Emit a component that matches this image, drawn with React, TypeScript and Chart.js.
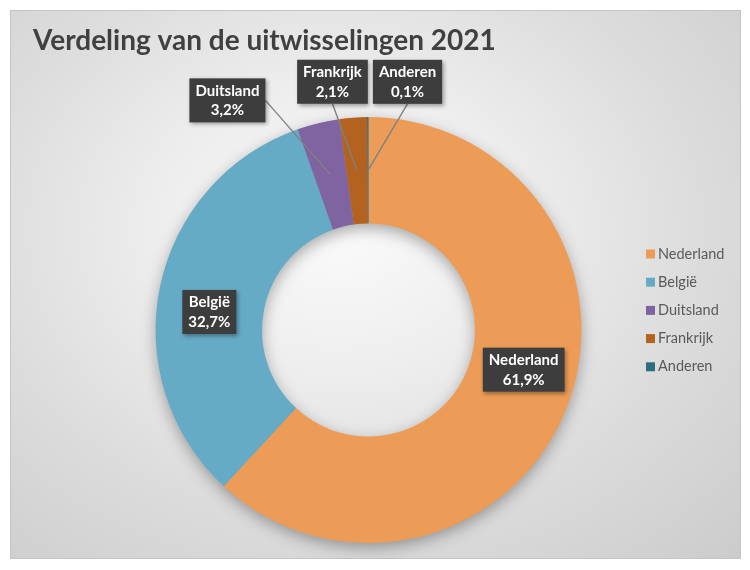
import { useEffect, useRef } from "react";
import { Chart, registerables } from "chart.js";

Chart.register(...registerables);

const categories = ["Nederland", "België", "Duitsland", "Frankrijk", "Anderen"];
const shares = [61.9, 32.7, 3.2, 2.1, 0.1];
const sliceColors = ["#EC9C57", "#66ABC6", "#8064A2", "#B4621F", "#2E6E7E"];
const titleText = "Verdeling van de uitwisselingen 2021";
// label box centre offset from the slice's mid-ring point (px)
const labelOffsets: number[][] = [
  [6.5, -18.7],
  [-2.8, 14.3],
  [-103.3, -74.5],
  [-24.5, -89],
  [39.5, -88.5],
];
const FONT = "Lato, 'Open Sans', sans-serif";

const ringShadow = {
  id: "ringShadow",
  beforeDatasetsDraw(chart: any) {
    const arc = chart.getDatasetMeta(0).data[0];
    if (!arc) return;
    const { x, y, innerRadius, outerRadius } = arc.getProps(["x", "y", "innerRadius", "outerRadius"], true);
    const ctx = chart.ctx;
    ctx.save();
    ctx.shadowColor = "rgba(0,0,0,0.35)";
    ctx.shadowBlur = 16;
    ctx.shadowOffsetY = 5;
    ctx.fillStyle = "#999";
    ctx.beginPath();
    ctx.arc(x, y, outerRadius - 1, 0, Math.PI * 2);
    ctx.arc(x, y, innerRadius + 1, 0, Math.PI * 2, true);
    ctx.fill("evenodd");
    ctx.restore();
  },
};

function fmt(v: number) {
  return v.toFixed(1).replace(".", ",") + "%";
}

const dataLabels = {
  id: "dataLabels",
  afterDatasetsDraw(chart: any) {
    const ctx = chart.ctx;
    const meta = chart.getDatasetMeta(0);
    const ds = chart.data.datasets[0].data as number[];
    const total = ds.reduce((a, b) => a + b, 0);
    const boxes: any[] = [];
    meta.data.forEach((el: any, i: number) => {
      const p = el.getProps(["x", "y", "startAngle", "endAngle", "innerRadius", "outerRadius"], true);
      const mid = (p.startAngle + p.endAngle) / 2;
      const r = (p.innerRadius + p.outerRadius) / 2;
      const ax = p.x + Math.cos(mid) * r;
      const ay = p.y + Math.sin(mid) * r;
      const [dx, dy] = labelOffsets[i];
      const cx = ax + dx;
      const cy = ay + dy;
      const l1 = String(chart.data.labels[i]);
      const l2 = fmt((ds[i] / total) * 100);
      ctx.font = `bold 15px ${FONT}`;
      const w = Math.max(ctx.measureText(l1).width, ctx.measureText(l2).width) + 12;
      const h = 44;
      boxes.push({ ax, ay, cx, cy, w, h, l1, l2, dx, dy });
    });
    // leader lines
    ctx.save();
    ctx.strokeStyle = "#808080";
    ctx.lineWidth = 1.4;
    boxes.forEach((b) => {
      const dist = Math.hypot(b.dx, b.dy);
      if (dist < 60) return;
      let ex: number, ey: number;
      if (Math.abs(b.dx) > Math.abs(b.dy)) {
        ex = b.dx < 0 ? b.cx + b.w / 2 : b.cx - b.w / 2;
        ey = b.cy;
      } else {
        ex = b.cx;
        ey = b.dy < 0 ? b.cy + b.h / 2 : b.cy - b.h / 2;
      }
      ctx.beginPath();
      ctx.moveTo(ex, ey);
      ctx.lineTo(b.ax, b.ay);
      ctx.stroke();
    });
    ctx.restore();
    // boxes
    boxes.forEach((b) => {
      ctx.save();
      ctx.shadowColor = "rgba(0,0,0,0.35)";
      ctx.shadowBlur = 4;
      ctx.shadowOffsetX = 1.5;
      ctx.shadowOffsetY = 2;
      ctx.fillStyle = "#3d3d3d";
      ctx.fillRect(b.cx - b.w / 2, b.cy - b.h / 2, b.w, b.h);
      ctx.restore();
      ctx.save();
      ctx.fillStyle = "#ffffff";
      ctx.font = `bold 15px ${FONT}`;
      ctx.textAlign = "center";
      ctx.textBaseline = "middle";
      ctx.fillText(b.l1, b.cx, b.cy - 9.5);
      ctx.fillText(b.l2, b.cx, b.cy + 10);
      ctx.restore();
    });
  },
};

const sideLegend = {
  id: "sideLegend",
  afterDraw(chart: any) {
    const ctx = chart.ctx;
    const labels = chart.data.labels as string[];
    const colors = chart.data.datasets[0].backgroundColor as string[];
    ctx.save();
    ctx.font = `14.5px ${FONT}`;
    ctx.textBaseline = "middle";
    labels.forEach((lab, i) => {
      const y = 244 + i * 28.2;
      ctx.fillStyle = colors[i];
      ctx.fillRect(636, y - 4.5, 9, 9);
      ctx.fillStyle = "#595959";
      ctx.fillText(lab, 648, y);
    });
    ctx.restore();
  },
};

export default function App() {
  const ref = useRef<HTMLCanvasElement | null>(null);
  useEffect(() => {
    if (!ref.current) return;
    const chart = new Chart(ref.current, {
      type: "doughnut",
      data: {
        labels: categories,
        datasets: [
          {
            data: shares,
            backgroundColor: sliceColors,
            borderWidth: 0,
            hoverOffset: 0,
          },
        ],
      },
      options: {
        animation: false,
        responsive: false,
        maintainAspectRatio: false,
        cutout: "50%",
        layout: { padding: { left: 23, right: 37, top: 0, bottom: 16 } },
        plugins: {
          legend: { display: false },
          tooltip: { enabled: false },
          title: {
            display: true,
            text: titleText,
            align: "start",
            color: "#404040",
            font: { family: FONT, size: 28, weight: "bold", lineHeight: 1.2 },
            padding: { top: 14.5, bottom: 59 },
          },
        },
      },
      plugins: [ringShadow, dataLabels, sideLegend],
    });
    return () => chart.destroy();
  }, []);

  return (
    <div style={{ position: "absolute", left: 0, top: 0, width: 750, height: 570, background: "#ffffff" }}>
      <div
        style={{
          position: "absolute",
          left: 10,
          top: 10,
          width: 731,
          height: 549,
          boxSizing: "border-box",
          border: "1px solid #c4c4c4",
          background:
            "radial-gradient(ellipse 80% 85% at 45% 40%, #fafafa 0%, #eeeeee 30%, #dcdcdc 62%, #cbcbcb 100%)",
        }}
      />
      <canvas
        ref={ref}
        width={731}
        height={549}
        style={{ position: "absolute", left: 10, top: 10, width: 731, height: 549 }}
      />
    </div>
  );
}
